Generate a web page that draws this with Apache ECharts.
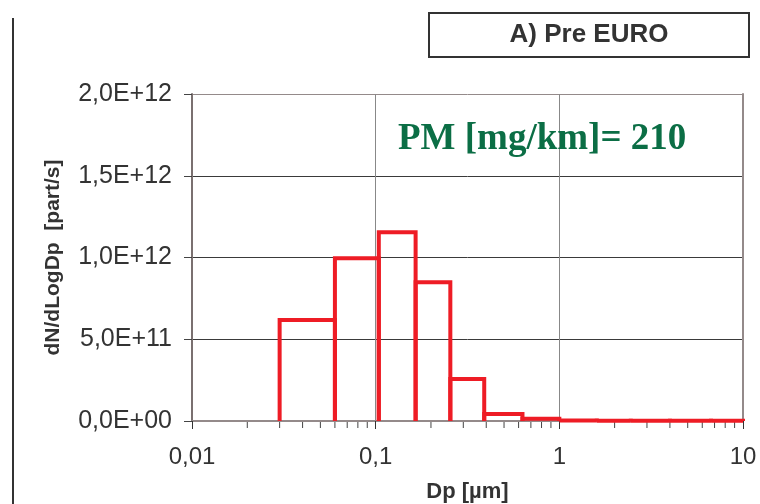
<!DOCTYPE html>
<html><head><meta charset="utf-8">
<script src="https://cdn.jsdelivr.net/npm/echarts@6/dist/echarts.min.js"></script>
<style>html,body{margin:0;padding:0;background:#fff}#c{width:760px;height:504px}</style>
</head><body><div id="c"></div>
<script>
const binLow  = [0.03, 0.06, 0.104, 0.165, 0.255, 0.39, 0.63, 1.0, 1.6, 2.45, 4.0, 6.7];
const binHigh = [0.06, 0.104, 0.165, 0.255, 0.39, 0.63, 1.0, 1.6, 2.45, 4.0, 6.7, 10];
const dNdLogDp = [6.18e11, 9.95e11, 1.155e12, 8.48e11, 2.57e11, 4.3e10, 1.4e10, 3e9, 2e9, 1.5e9, 1e9, 1e9];
const xTickValues = [0.01, 0.1, 1, 10];
const xTickLabels = ['0,01', '0,1', '1', '10'];
const xMinorTicks = [0.02,0.03,0.04,0.05,0.06,0.07,0.08,0.09,0.2,0.3,0.4,0.5,0.6,0.7,0.8,0.9,2,3,4,5,6,7,8,9];
const yTickValues = [0, 5e11, 1e12, 1.5e12, 2e12];
const yTickLabels = ['0,0E+00', '5,0E+11', '1,0E+12', '1,5E+12', '2,0E+12'];
const titleText = 'A) Pre EURO';
const pmText = 'PM [mg/km]= 210';

const chart = echarts.init(document.getElementById('c'), null, {renderer: 'canvas'});
const FONT = 'Liberation Sans, Arial, sans-serif';
function xLabel(v) {
  const i = xTickValues.findIndex(t => Math.abs(Math.log10(t) - Math.log10(v)) < 1e-6);
  return i >= 0 ? xTickLabels[i] : '';
}
function yLabel(v) {
  const i = yTickValues.findIndex(t => Math.abs(t - v) < 1e3);
  return i >= 0 ? yTickLabels[i] : '';
}
const histData = binLow.map((lo, i) => [lo, binHigh[i], dNdLogDp[i]]);

chart.setOption({
  animation: false,
  backgroundColor: '#fff',
  grid: {left: 192, right: 17, top: 94, bottom: 83, containLabel: false, outerBoundsMode: 'none'},
  xAxis: [{
    type: 'log', logBase: 10, min: 0.01, max: 10,
    name: 'Dp [µm]', nameLocation: 'middle', nameGap: 60,
    nameTextStyle: {fontFamily: FONT, fontWeight: 'bold', fontSize: 22, color: '#333'},
    axisLine: {show: true, lineStyle: {color: '#444', width: 2}},
    axisTick: {show: true, length: 8, lineStyle: {color: '#333', width: 1}},
    axisLabel: {formatter: xLabel, margin: 24, fontFamily: FONT, fontSize: 24, color: '#333'},
    splitLine: {show: true, lineStyle: {color: '#888', width: 1}},
    minorTick: {show: false}
  }, {
    type: 'log', logBase: 10, min: 0.01, max: 10, position: 'top',
    axisLine: {show: true, lineStyle: {color: '#948a8a', width: 2}},
    axisTick: {show: false}, axisLabel: {show: false}, splitLine: {show: false}
  }],
  yAxis: [{
    type: 'value', min: 0, max: 2e12, interval: 5e11,
    name: 'dN/dLogDp  [part/s]', nameLocation: 'middle', nameGap: 128, nameRotate: 90,
    nameTextStyle: {fontFamily: FONT, fontWeight: 'bold', fontSize: 21, color: '#333'},
    axisLine: {show: true, lineStyle: {color: '#7a7070', width: 2}},
    axisTick: {show: true, length: 8, lineStyle: {color: '#444', width: 1}},
    axisLabel: {formatter: yLabel, margin: 20, fontFamily: FONT, fontSize: 25, color: '#333'},
    splitLine: {show: true, lineStyle: {color: ['#444', '#3a3a3a', '#3a3a3a', '#3a3a3a', '#948a8a'], width: 1}}
  }, {
    type: 'value', min: 0, max: 2e12, interval: 5e11, position: 'right',
    axisLine: {show: true, lineStyle: {color: '#948a8a', width: 2}},
    axisTick: {show: false}, axisLabel: {show: false}, splitLine: {show: false}
  }],
  series: [{
    type: 'custom',
    name: 'histogram',
    xAxisIndex: 0, yAxisIndex: 0,
    data: histData,
    encode: {x: [0, 1], y: 2},
    z: 5,
    renderItem(params, api) {
      const lo = api.value(0), hi = api.value(1), v = api.value(2);
      const p0 = api.coord([lo, 0]);
      const p1 = api.coord([lo, v]);
      const p2 = api.coord([hi, v]);
      const p3 = api.coord([hi, 0]);
      return {
        type: 'polyline',
        shape: {points: [p0, p1, p2, p3]},
        style: {fill: null, stroke: '#ee1c25', lineWidth: 4, lineJoin: 'miter'}
      };
    }
  }, {
    type: 'custom',
    name: 'minorTicks',
    xAxisIndex: 0, yAxisIndex: 0,
    clip: false,
    data: xMinorTicks.map(v => [v, 0]),
    encode: {x: 0, y: 1},
    z: 1,
    renderItem(params, api) {
      const p = api.coord([api.value(0), 0]);
      return {
        type: 'line',
        shape: {x1: p[0], y1: p[1] + 1, x2: p[0], y2: p[1] + 7},
        style: {stroke: '#444', lineWidth: 1}
      };
    }
  }],
  graphic: [
    {type: 'line', shape: {x1: 13, y1: 18, x2: 13, y2: 504}, style: {stroke: '#333', lineWidth: 2}},
    {type: 'rect', shape: {x: 429, y: 13, width: 320, height: 44}, style: {fill: '#fff', stroke: '#333', lineWidth: 2}},
    {type: 'text', x: 589, y: 35, style: {text: titleText, fontFamily: FONT, fontWeight: 'bold', fontSize: 26, fill: '#333', align: 'center', verticalAlign: 'middle'}},
    {type: 'text', x: 398, y: 139, z: 10, style: {text: pmText, fontFamily: 'Liberation Serif, Times New Roman, serif', fontWeight: 'bold', fontSize: 37, fill: '#0b6e45', align: 'left', verticalAlign: 'middle'}}
  ]
});
</script>
</body></html>
